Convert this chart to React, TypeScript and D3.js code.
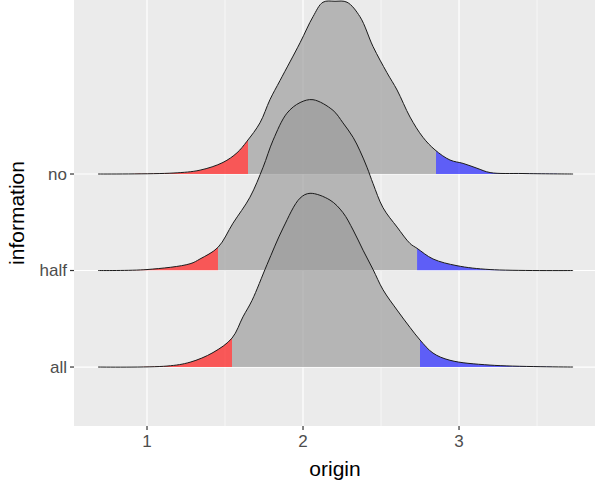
import React, { useEffect, useRef } from 'react';
import * as d3 from 'd3';

// ridge categories, bottom to top
const categories = ['all', 'half', 'no'];
const xTicks = [1, 2, 3];
const xMinor = [1.5, 2.5, 3.5];

// density outlines: [origin, height in row units]
const densityNo: [number, number][] = [
  [0.686, 0], [1.167, 0.01], [1.34, 0.04], [1.487, 0.12], [1.577, 0.22], [1.641, 0.34],
  [1.724, 0.53], [1.788, 0.77], [1.853, 0.97], [1.981, 1.36], [2.064, 1.63], [2.128, 1.78],
  [2.205, 1.79], [2.282, 1.78], [2.365, 1.63], [2.449, 1.32], [2.538, 1.05], [2.603, 0.87],
  [2.686, 0.59], [2.769, 0.38], [2.846, 0.25], [2.942, 0.145], [3.026, 0.11], [3.115, 0.06],
  [3.199, 0.015], [3.41, 0.005], [3.731, 0],
];
const densityHalf: [number, number][] = [
  [0.686, 0], [1.0, 0.01], [1.276, 0.07], [1.34, 0.12], [1.455, 0.24], [1.551, 0.49],
  [1.66, 0.76], [1.744, 1.07], [1.808, 1.35], [1.897, 1.63], [1.981, 1.74], [2.064, 1.77],
  [2.192, 1.66], [2.256, 1.53], [2.321, 1.38], [2.365, 1.24], [2.41, 1.07], [2.449, 0.9],
  [2.513, 0.65], [2.603, 0.45], [2.686, 0.28], [2.731, 0.23], [2.833, 0.12], [2.987, 0.05],
  [3.199, 0.01], [3.731, 0],
];
const densityAll: [number, number][] = [
  [0.686, 0], [1.128, 0.01], [1.276, 0.05], [1.423, 0.15], [1.545, 0.3], [1.615, 0.52],
  [1.673, 0.69], [1.769, 1.06], [1.872, 1.44], [1.981, 1.75], [2.045, 1.8], [2.173, 1.73],
  [2.256, 1.6], [2.321, 1.42], [2.385, 1.21], [2.449, 1.01], [2.513, 0.8], [2.603, 0.59],
  [2.686, 0.41], [2.75, 0.28], [2.833, 0.145], [2.942, 0.07], [3.199, 0.02], [3.731, 0],
];

// lower / upper tail cut points for each ridge
const lowerCut = [1.545, 1.455, 1.647];
const upperCut = [2.75, 2.731, 2.853];

const densities = [densityAll, densityHalf, densityNo];

const App: React.FC = () => {
  const ref = useRef<SVGSVGElement | null>(null);

  useEffect(() => {
    const width = 595;
    const height = 493;
    const margin = { top: 0, right: -1, bottom: 67, left: 74 };
    const svg = d3.select(ref.current);
    svg.selectAll('*').remove();

    const x = d3
      .scaleLinear()
      .domain([0.532, 3.878])
      .range([margin.left, width - margin.right]);
    const y = d3
      .scaleLinear()
      .domain([0.389, 4.803])
      .range([height - margin.bottom, margin.top]);

    const px0 = margin.left;
    const px1 = width - margin.right;
    const py0 = margin.top;
    const py1 = height - margin.bottom;

    svg
      .append('rect')
      .attr('x', px0)
      .attr('y', py0)
      .attr('width', px1 - px0)
      .attr('height', py1 - py0)
      .attr('fill', '#EBEBEB');

    const grid = svg.append('g');
    grid
      .selectAll('line.minor')
      .data(xMinor)
      .join('line')
      .attr('x1', (d) => x(d))
      .attr('x2', (d) => x(d))
      .attr('y1', py0)
      .attr('y2', py1)
      .attr('stroke', 'white')
      .attr('stroke-width', 0.6);
    grid
      .selectAll('line.major')
      .data(xTicks)
      .join('line')
      .attr('x1', (d) => x(d))
      .attr('x2', (d) => x(d))
      .attr('y1', py0)
      .attr('y2', py1)
      .attr('stroke', 'white')
      .attr('stroke-width', 1.2);
    grid
      .selectAll('line.hmajor')
      .data(categories)
      .join('line')
      .attr('x1', px0)
      .attr('x2', px1)
      .attr('y1', (_, i) => y(i + 1))
      .attr('y2', (_, i) => y(i + 1))
      .attr('stroke', 'white')
      .attr('stroke-width', 1.2);

    const defs = svg.append('defs');

    // draw top ridge first so lower ones overlap it
    const order = [2, 1, 0];
    order.forEach((i) => {
      const data = densities[i];
      const base = i + 1;
      const area = d3
        .area<[number, number]>()
        .x((d) => x(d[0]))
        .y0(y(base))
        .y1((d) => Math.min(y(base), y(base + d[1])))
        .curve(d3.curveCatmullRom.alpha(0.5));
      const line = d3
        .line<[number, number]>()
        .x((d) => x(d[0]))
        .y((d) => y(base + d[1]))
        .curve(d3.curveCatmullRom.alpha(0.5));

      const parts = [
        { from: 0, to: lowerCut[i], fill: '#FF0000', op: 0.63 },
        { from: lowerCut[i], to: upperCut[i], fill: '#999999', op: 0.67 },
        { from: upperCut[i], to: 5, fill: '#0000FF', op: 0.6 },
      ];
      const g = svg.append('g');
      parts.forEach((p, j) => {
        const id = `clip-${i}-${j}`;
        defs
          .append('clipPath')
          .attr('id', id)
          .append('rect')
          .attr('x', x(p.from))
          .attr('y', 0)
          .attr('width', x(p.to) - x(p.from))
          .attr('height', y(base));
        g.append('path')
          .attr('d', area(data)!)
          .attr('fill', p.fill)
          .attr('fill-opacity', p.op)
          .attr('clip-path', `url(#${id})`);
      });
      g.append('path')
        .attr('d', line(data)!)
        .attr('fill', 'none')
        .attr('stroke', '#1a1a1a')
        .attr('stroke-width', 1);
    });

    // x axis
    const xa = svg.append('g');
    xa.selectAll('line')
      .data(xTicks)
      .join('line')
      .attr('x1', (d) => x(d))
      .attr('x2', (d) => x(d))
      .attr('y1', py1)
      .attr('y2', py1 + 4)
      .attr('stroke', '#333333')
      .attr('stroke-width', 1.2);
    xa.selectAll('text')
      .data(xTicks)
      .join('text')
      .attr('x', (d) => x(d))
      .attr('y', py1 + 21)
      .attr('text-anchor', 'middle')
      .attr('font-family', 'Liberation Sans, Arial, sans-serif')
      .attr('font-size', 17)
      .attr('fill', '#4D4D4D')
      .text((d) => String(d));

    // y axis
    const ya = svg.append('g');
    ya.selectAll('line')
      .data(categories)
      .join('line')
      .attr('x1', px0 - 4)
      .attr('x2', px0)
      .attr('y1', (_, i) => y(i + 1))
      .attr('y2', (_, i) => y(i + 1))
      .attr('stroke', '#333333')
      .attr('stroke-width', 1.2);
    ya.selectAll('text')
      .data(categories)
      .join('text')
      .attr('x', px0 - 7)
      .attr('y', (_, i) => y(i + 1))
      .attr('dy', '0.35em')
      .attr('text-anchor', 'end')
      .attr('font-family', 'Liberation Sans, Arial, sans-serif')
      .attr('font-size', 17)
      .attr('fill', '#4D4D4D')
      .text((d) => d);

    svg
      .append('text')
      .attr('x', (px0 + px1) / 2)
      .attr('y', 476)
      .attr('text-anchor', 'middle')
      .attr('font-family', 'Liberation Sans, Arial, sans-serif')
      .attr('font-size', 21)
      .attr('fill', 'black')
      .text('origin');

    svg
      .append('text')
      .attr('transform', `translate(24,${(py0 + py1) / 2}) rotate(-90)`)
      .attr('text-anchor', 'middle')
      .attr('font-family', 'Liberation Sans, Arial, sans-serif')
      .attr('font-size', 21)
      .attr('fill', 'black')
      .text('information');
  }, []);

  return (
    <svg
      ref={ref}
      width={595}
      height={493}
      style={{ position: 'absolute', left: 0, top: 0, background: 'white' }}
    />
  );
};

export default App;
